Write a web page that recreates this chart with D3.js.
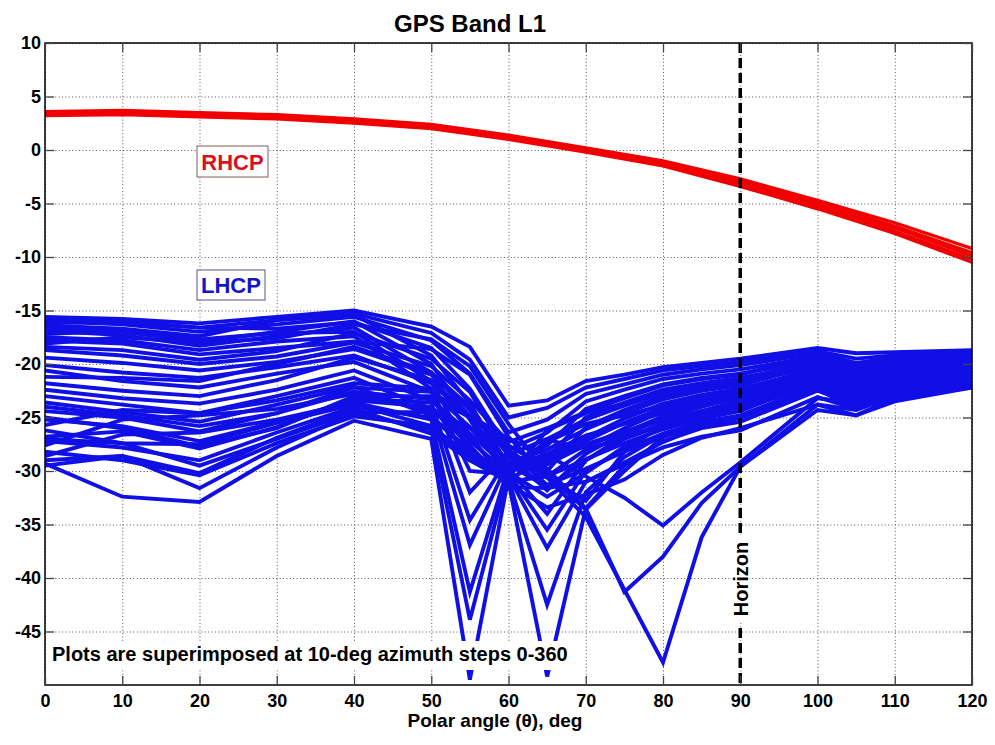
<!DOCTYPE html>
<html>
<head>
<meta charset="utf-8">
<script src="https://cdn.jsdelivr.net/npm/d3@7"></script>
<style>
  body { margin: 0; background: #fff; }
  svg text { font-family: "Liberation Sans", Arial, sans-serif; font-weight: bold; }
</style>
</head>
<body>
<div id="chart"></div>
<script>
const width = 995
const height = 745
const margin = { top: 43, bottom: 60, left: 45, right: 23 }

// polar angle samples shared by every LHCP trace
const polarAngle = [0, 10, 20, 30, 40, 50, 55, 60, 65, 70, 75, 80, 85, 90, 100, 105, 110, 120]

// LHCP gain (dB), one trace per azimuth cut
const lhcpGain = [
  [-15.6,-15.8,-16.2,-15.6,-15.0,-16.5,-18.4,-23.9,-23.4,-21.6,-21.0,-20.3,-19.9,-19.5,-18.5,-19.0,-18.9,-18.7],
  [-15.8,-16.1,-16.6,-15.9,-15.3,-17.1,-19.6,-25.0,-24.1,-22.2,-21.4,-20.6,-20.2,-19.8,-18.8,-19.5,-19.2,-19.0],
  [-16.0,-16.3,-17.0,-16.3,-15.6,-17.8,-20.9,-26.4,-25.2,-22.8,-21.9,-21.0,-20.5,-20.1,-19.0,-19.9,-19.4,-19.2],
  [-16.2,-16.0,-16.6,-16.7,-16.1,-18.5,-22.3,-28.0,-26.4,-23.5,-22.4,-21.4,-20.9,-20.5,-19.3,-20.4,-19.7,-19.5],
  [-16.4,-16.7,-17.4,-15.9,-15.4,-19.2,-23.7,-29.6,-27.6,-24.2,-23.0,-21.9,-21.3,-20.9,-19.6,-20.8,-20.0,-19.8],
  [-16.7,-17.0,-17.9,-17.0,-16.0,-20.0,-25.2,-30.8,-28.8,-25.0,-23.6,-22.4,-21.8,-21.3,-19.9,-21.3,-20.3,-20.0],
  [-16.9,-17.3,-18.3,-17.4,-16.6,-20.8,-26.7,-31.4,-30.0,-25.9,-24.3,-23.0,-22.3,-21.8,-20.2,-21.8,-20.6,-20.3],
  [-17.2,-16.9,-17.7,-17.1,-17.0,-21.6,-28.3,-30.9,-28.5,-26.9,-25.1,-23.7,-22.9,-22.3,-20.5,-22.3,-20.9,-20.6],
  [-17.5,-17.8,-18.7,-17.9,-17.4,-22.3,-30.0,-30.3,-27.1,-27.9,-26.0,-24.4,-23.5,-22.8,-20.8,-22.8,-21.2,-20.9],
  [-17.8,-18.1,-19.1,-18.5,-17.9,-18.6,-21.0,-26.8,-30.6,-32.8,-28.2,-25.6,-24.4,-23.4,-21.2,-23.3,-21.6,-21.2],
  [-18.1,-17.5,-18.0,-17.6,-16.3,-17.7,-20.2,-25.6,-30.3,-33.6,-30.0,-26.8,-25.2,-24.0,-21.6,-23.8,-22.0,-21.6],
  [-18.4,-18.7,-19.6,-18.8,-17.1,-19.5,-22.6,-28.6,-31.8,-28.4,-26.4,-24.9,-23.9,-22.9,-20.6,-22.0,-20.7,-20.3],
  [-18.7,-19.2,-20.0,-19.3,-18.0,-20.2,-23.4,-27.3,-26.0,-24.5,-23.2,-22.0,-21.4,-21.0,-19.2,-20.2,-19.6,-19.3],
  [-19.4,-19.9,-20.6,-19.8,-18.6,-21.0,-24.3,-28.5,-27.0,-25.2,-23.9,-22.7,-22.0,-21.5,-19.6,-20.6,-19.9,-19.6],
  [-20.1,-20.8,-21.3,-20.3,-19.2,-21.8,-25.0,-29.2,-28.0,-26.1,-24.6,-23.3,-22.5,-22.0,-20.0,-21.1,-20.3,-19.9],
  [-20.6,-21.6,-22.2,-20.9,-19.8,-22.6,-25.9,-30.0,-29.1,-27.2,-25.5,-24.1,-23.2,-22.5,-20.4,-21.6,-20.7,-20.3],
  [-21.2,-21.3,-21.6,-20.0,-18.4,-20.8,-24.0,-29.4,-31.5,-29.0,-26.7,-25.0,-24.0,-23.1,-20.9,-22.3,-21.1,-20.7],
  [-21.8,-22.5,-23.0,-21.5,-19.4,-21.5,-24.8,-30.1,-32.4,-30.2,-27.7,-25.9,-24.7,-23.7,-21.4,-22.9,-21.5,-21.0],
  [-22.4,-23.2,-23.7,-22.4,-20.6,-23.4,-26.8,-31.0,-30.5,-28.0,-26.9,-25.6,-24.8,-24.2,-21.9,-23.5,-21.9,-21.3],
  [-23.0,-23.8,-24.6,-23.0,-21.3,-24.2,-27.6,-31.5,-31.6,-31.0,-29.2,-27.3,-25.8,-25.0,-22.4,-24.1,-22.4,-21.7],
  [-23.6,-24.5,-25.4,-23.8,-22.1,-24.8,-28.4,-31.2,-33.4,-32.2,-30.8,-28.5,-26.9,-26.0,-23.8,-24.8,-23.2,-22.2],
  [-29.3,-32.4,-32.9,-28.6,-25.3,-27.0,-49.5,-30.6,-26.2,-24.6,-23.7,-22.8,-22.2,-21.7,-19.8,-20.9,-20.1,-19.7],
  [-29.0,-28.6,-31.6,-27.8,-24.6,-26.1,-43.9,-30.1,-27.3,-25.6,-24.8,-23.9,-23.1,-22.6,-20.3,-21.5,-20.5,-20.1],
  [-28.6,-26.6,-26.4,-25.2,-23.6,-25.2,-41.3,-29.6,-28.4,-26.7,-25.6,-24.6,-23.8,-23.2,-20.7,-21.9,-20.9,-20.4],
  [-27.6,-25.2,-24.8,-24.2,-22.8,-24.4,-36.9,-29.1,-29.4,-27.6,-26.4,-25.3,-24.4,-23.8,-21.1,-22.4,-21.2,-20.8],
  [-26.8,-26.3,-27.9,-25.9,-23.2,-23.6,-34.6,-28.6,-30.5,-28.9,-27.4,-26.1,-25.1,-24.4,-21.5,-22.8,-21.6,-21.1],
  [-25.7,-24.3,-24.6,-23.4,-21.8,-22.3,-32.0,-28.1,-31.3,-29.8,-28.2,-26.8,-25.7,-25.0,-21.9,-23.2,-22.0,-21.5],
  [-29.5,-28.6,-30.2,-26.9,-24.2,-26.5,-29.0,-31.0,-49.2,-33.5,-29.5,-27.2,-26.0,-25.4,-22.5,-23.8,-22.5,-21.8],
  [-28.2,-29.0,-30.4,-27.4,-24.9,-25.8,-28.6,-30.8,-42.5,-32.0,-28.7,-26.6,-25.6,-25.0,-22.2,-23.6,-22.3,-21.6],
  [-27.2,-27.8,-29.0,-26.4,-24.0,-25.0,-28.0,-30.5,-37.2,-31.0,-29.4,-27.8,-26.8,-26.2,-23.1,-24.2,-22.7,-22.0],
  [-25.2,-25.8,-27.2,-25.4,-23.4,-24.0,-27.2,-30.2,-35.5,-30.0,-28.0,-26.5,-25.4,-24.8,-22.0,-23.3,-22.0,-21.4],
  [-24.4,-25.0,-26.3,-24.6,-22.6,-23.3,-26.5,-29.8,-34.0,-29.0,-27.0,-25.7,-24.8,-24.3,-21.7,-23.0,-21.8,-21.2],
  [-26.2,-27.4,-29.5,-27.0,-24.5,-24.5,-26.0,-28.0,-30.6,-34.3,-41.1,-47.9,-36.2,-29.6,-24.3,-24.8,-23.5,-22.2],
  [-25.0,-26.0,-27.7,-26.0,-23.0,-23.0,-25.0,-27.6,-29.8,-33.5,-41.3,-38.0,-33.0,-29.6,-23.8,-24.3,-23.0,-21.8],
  [-24.0,-24.8,-25.8,-24.6,-22.2,-22.6,-24.8,-27.0,-28.5,-30.5,-32.5,-35.1,-32.0,-29.2,-23.2,-23.6,-22.5,-21.5],
  [-27.0,-27.4,-27.5,-25.5,-23.8,-25.8,-29.0,-29.6,-28.7,-27.5,-26.3,-25.2,-24.4,-23.9,-21.0,-22.6,-21.4,-20.9]
]

// RHCP gain (dB), traces nearly overlap
const rhcpAngle = [0, 10, 20, 30, 40, 50, 60, 70, 80, 90, 100, 110, 120]
const rhcpGain = [
  [3.6, 3.7, 3.5, 3.3, 2.9, 2.4, 1.4, 0.2, -1.0, -2.7, -4.7, -6.8, -9.2],
  [3.5, 3.6, 3.4, 3.2, 2.8, 2.3, 1.3, 0.1, -1.2, -2.9, -4.9, -7.1, -9.6],
  [3.4, 3.5, 3.3, 3.1, 2.7, 2.2, 1.2, 0.0, -1.3, -3.1, -5.1, -7.3, -9.9],
  [3.3, 3.4, 3.2, 3.0, 2.6, 2.1, 1.1, -0.1, -1.4, -3.2, -5.3, -7.6, -10.2],
  [3.2, 3.3, 3.1, 2.9, 2.5, 2.0, 1.0, -0.2, -1.5, -3.4, -5.5, -7.8, -10.5]
]

const xTicks = [0, 10, 20, 30, 40, 50, 60, 70, 80, 90, 100, 110, 120]
const yTicks = [10, 5, 0, -5, -10, -15, -20, -25, -30, -35, -40, -45]
const horizonAngle = 90

const innerW = width - margin.left - margin.right
const innerH = height - margin.top - margin.bottom

const svg = d3.select("div#chart").append("svg").attr("width", width).attr("height", height)
const plot = svg.append("g").attr("transform", `translate(${margin.left}, ${margin.top})`)

const x = d3.scaleLinear().domain([0, 120]).range([0, innerW])
const y = d3.scaleLinear().domain([-50, 10]).range([innerH, 0])
const plain = d => String(d)

svg.append("defs").append("clipPath").attr("id", "plotClip")
    .append("rect").attr("width", innerW).attr("height", innerH)

// dotted grid
const gridGroup = plot.append("g").attr("id", "grid")
gridGroup.append("g").attr("transform", `translate(0, ${innerH})`)
    .call(d3.axisBottom(x).tickValues(xTicks).tickSize(-innerH).tickFormat(""))
gridGroup.append("g")
    .call(d3.axisLeft(y).tickValues(yTicks).tickSize(-innerW).tickFormat(""))
gridGroup.selectAll(".domain").remove()
gridGroup.selectAll("line").attr("stroke", "#555").attr("stroke-dasharray", "1,2.4").attr("stroke-width", 1)

const lines = plot.append("g").attr("clip-path", "url(#plotClip)")

const lhcpLine = d3.line().x((d, i) => x(polarAngle[i])).y(d => y(d))
lines.selectAll("path.lhcp").data(lhcpGain).enter().append("path")
    .attr("class", "lhcp")
    .attr("d", lhcpLine)
    .attr("fill", "none")
    .attr("stroke", "#1010e6")
    .attr("stroke-width", 3.9)
    .attr("stroke-linejoin", "miter")

const rhcpLine = d3.line().x((d, i) => x(rhcpAngle[i])).y(d => y(d))
lines.selectAll("path.rhcp").data(rhcpGain).enter().append("path")
    .attr("class", "rhcp")
    .attr("d", rhcpLine)
    .attr("fill", "none")
    .attr("stroke", "#f00000")
    .attr("stroke-width", 3.2)

// horizon marker
plot.append("line")
    .attr("x1", x(horizonAngle)).attr("x2", x(horizonAngle))
    .attr("y1", 0).attr("y2", innerH)
    .attr("stroke", "#000").attr("stroke-width", 3.5).attr("stroke-dasharray", "10,5")

const hx = x(horizonAngle) + 8
const hy = 579 - margin.top
plot.append("rect").attr("x", x(horizonAngle) - 8).attr("y", hy - 44)
    .attr("width", 17).attr("height", 88).attr("fill", "#fff")
plot.append("text")
    .attr("transform", `translate(${hx}, ${hy}) rotate(-90)`)
    .attr("text-anchor", "middle")
    .style("font-size", "20px")
    .text("Horizon")

// axes with inward ticks
const axisGroup = svg.append("g").attr("id", "axisGroup")
const xAxisGroup = axisGroup.append("g").attr("transform", `translate(${margin.left}, ${margin.top + innerH})`)
    .call(d3.axisBottom(x).tickValues(xTicks).tickSize(-9).tickPadding(9).tickFormat(plain))
const yAxisGroup = axisGroup.append("g").attr("transform", `translate(${margin.left}, ${margin.top})`)
    .call(d3.axisLeft(y).tickValues(yTicks).tickSize(-9).tickPadding(4).tickFormat(plain))
axisGroup.append("g").attr("transform", `translate(${margin.left}, ${margin.top})`)
    .call(d3.axisTop(x).tickValues(xTicks).tickSize(-9).tickFormat(""))
axisGroup.append("g").attr("transform", `translate(${margin.left + innerW}, ${margin.top})`)
    .call(d3.axisRight(y).tickValues(yTicks).tickSize(-9).tickFormat(""))
axisGroup.selectAll(".domain").remove()
axisGroup.selectAll(".tick line").attr("stroke", "#444").attr("stroke-width", 1.3)
axisGroup.selectAll("text").style("font-size", "18px").attr("fill", "#000")

plot.append("rect").attr("width", innerW).attr("height", innerH)
    .attr("fill", "none").attr("stroke", "#000").attr("stroke-width", 1.5)

// labels in boxes
function boxLabel(px, py, w, h, txt, color, border) {
  plot.append("rect").attr("x", px).attr("y", py).attr("width", w).attr("height", h)
      .attr("fill", "#fff").attr("stroke", border).attr("stroke-width", 1)
  plot.append("text").attr("x", px + w / 2).attr("y", py + h / 2 + 8)
      .attr("text-anchor", "middle").attr("fill", color).style("font-size", "22px").text(txt)
}
boxLabel(197 - margin.left, 146 - margin.top, 71, 31, "RHCP", "#d8101c", "#8a5a5a")
boxLabel(197 - margin.left, 270 - margin.top, 68, 30, "LHCP", "#1515c8", "#55558a")

// note across the bottom of the plot
plot.append("rect").attr("x", 2).attr("y", 641 - margin.top).attr("width", 523).attr("height", 29).attr("fill", "#fff")
plot.append("text").attr("x", 52 - margin.left).attr("y", 661 - margin.top)
    .style("font-size", "20px").text("Plots are superimposed at 10-deg azimuth steps 0-360")

svg.append("text").attr("x", 470).attr("y", 32).attr("text-anchor", "middle")
    .style("font-size", "24px").text("GPS Band L1")
svg.append("text").attr("x", 495).attr("y", 727).attr("text-anchor", "middle")
    .style("font-size", "19px").text("Polar angle (θ), deg")
</script>
</body>
</html>
